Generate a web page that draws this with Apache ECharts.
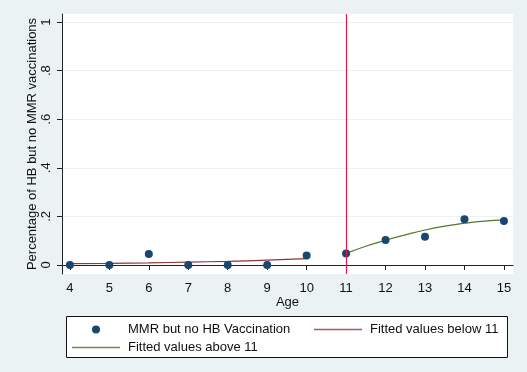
<!DOCTYPE html>
<html>
<head>
<meta charset="utf-8">
<script src="https://cdn.jsdelivr.net/npm/echarts@6/dist/echarts.min.js"></script>
<style>
  html, body { margin: 0; padding: 0; background: #eaf2f3; }
  #chart { width: 527px; height: 372px; }
</style>
</head>
<body>
<div id="chart"></div>
<script>
// Share of children with MMR but no HB vaccination, by age
const ages = [4, 5, 6, 7, 8, 9, 10, 11, 12, 13, 14, 15];
const observed = [0.0, 0.0, 0.045, 0.0, 0.0, 0.0, 0.039, 0.047, 0.103, 0.116, 0.188, 0.181];

// Fitted curves on either side of the age-11 cutoff
const fitBelowAges = [4, 5, 6, 7, 8, 9, 10];
const fitBelow = [0.006, 0.007, 0.009, 0.012, 0.015, 0.020, 0.026];
const fitAboveAges = [11, 11.5, 12, 12.5, 13, 13.5, 14, 14.5, 15];
const fitAbove = [0.048, 0.077, 0.102, 0.124, 0.144, 0.160, 0.172, 0.181, 0.186];

const cutoff = 11;
const yTicks = [0, 0.2, 0.4, 0.6, 0.8, 1];
const yTickText = ['0', '.2', '.4', '.6', '.8', '1'];
const xTicks = [4, 5, 6, 7, 8, 9, 10, 11, 12, 13, 14, 15];

const names = {
  obs: 'MMR but no HB Vaccination',
  below: 'Fitted values below 11',
  above: 'Fitted values above 11'
};

const FONT = '"Liberation Sans", Arial, sans-serif';
const AXIS_COLOR = '#222';
const TEXT_COLOR = '#111';

const chart = echarts.init(document.getElementById('chart'));

// Line-style legend entry: a thin bar as the key
function lineLegend(name, left, top) {
  return {
    data: [{ name: name, icon: 'rect' }],
    left: left, top: top,
    itemWidth: 48, itemHeight: 1.3, itemGap: 0, padding: 0,
    selectedMode: false,
    textStyle: { fontFamily: FONT, fontSize: 13, color: TEXT_COLOR, padding: [0, 0, 0, 3] }
  };
}

chart.setOption({
  backgroundColor: '#eaf2f3',
  animation: false,
  grid: {
    left: 62, right: 14, top: 14, bottom: 98,
    show: true, backgroundColor: '#ffffff', borderWidth: 0
  },
  xAxis: {
    type: 'value',
    min: 3.8, max: 15.23,
    name: 'Age',
    nameLocation: 'middle',
    nameGap: 22,
    nameMoveOverlap: false,
    nameTextStyle: { fontFamily: FONT, fontSize: 13, color: TEXT_COLOR },
    axisLine: { show: true, lineStyle: { color: AXIS_COLOR, width: 1 } },
    axisTick: { show: true, length: 5, lineStyle: { color: AXIS_COLOR }, customValues: xTicks },
    axisLabel: { fontFamily: FONT, fontSize: 13, color: TEXT_COLOR, margin: 8, customValues: xTicks },
    splitLine: { show: false }
  },
  yAxis: {
    type: 'value',
    min: -0.037, max: 1.033,
    name: 'Percentage of HB but no MMR vaccinations',
    nameLocation: 'middle',
    nameGap: 23,
    nameMoveOverlap: false,
    nameTextStyle: { fontFamily: FONT, fontSize: 13, color: TEXT_COLOR },
    axisLine: { show: true, lineStyle: { color: AXIS_COLOR, width: 1 } },
    axisTick: { show: true, length: 5, lineStyle: { color: AXIS_COLOR }, customValues: yTicks },
    axisLabel: {
      fontFamily: FONT, fontSize: 13, color: TEXT_COLOR, margin: 9, rotate: 90,
      customValues: yTicks,
      formatter: v => {
        const i = yTicks.findIndex(t => Math.abs(t - v) < 1e-9);
        return i >= 0 ? yTickText[i] : '';
      }
    },
    splitLine: { show: true, lineStyle: { color: '#eaf2f3', width: 1 } }
  },
  legend: [
    {
      data: [{ name: names.obs, icon: 'circle' }],
      left: 92, top: 323,
      itemWidth: 8, itemHeight: 8, itemGap: 0, padding: 0,
      selectedMode: false,
      textStyle: { fontFamily: FONT, fontSize: 13, color: TEXT_COLOR, padding: [0, 0, 0, 23] }
    },
    lineLegend(names.below, 314, 323),
    lineLegend(names.above, 72, 341)
  ],
  graphic: [{
    type: 'rect',
    z: -1,
    shape: { x: 66.5, y: 316.5, width: 441, height: 41 },
    style: { fill: '#ffffff', stroke: '#111', lineWidth: 1 }
  }],
  series: [
    {
      name: names.below,
      type: 'line',
      data: fitBelowAges.map((a, i) => [a, fitBelow[i]]),
      smooth: true,
      symbol: 'none',
      lineStyle: { color: '#90353b', width: 1.2 },
      itemStyle: { color: '#b0575d' },
      z: 3
    },
    {
      name: names.above,
      type: 'line',
      data: fitAboveAges.map((a, i) => [a, fitAbove[i]]),
      smooth: true,
      symbol: 'none',
      lineStyle: { color: '#55752f', width: 1.2 },
      itemStyle: { color: '#6f8a4d' },
      z: 3,
      markLine: {
        silent: true,
        symbol: 'none',
        label: { show: false },
        lineStyle: { color: '#e8174a', width: 1.2, type: 'solid' },
        data: [{ xAxis: cutoff }]
      }
    },
    {
      name: names.obs,
      type: 'scatter',
      data: ages.map((a, i) => [a, observed[i]]),
      symbol: 'circle',
      symbolSize: 8,
      itemStyle: { color: '#1a476f', opacity: 1 },
      z: 4
    }
  ]
});
</script>
</body>
</html>
